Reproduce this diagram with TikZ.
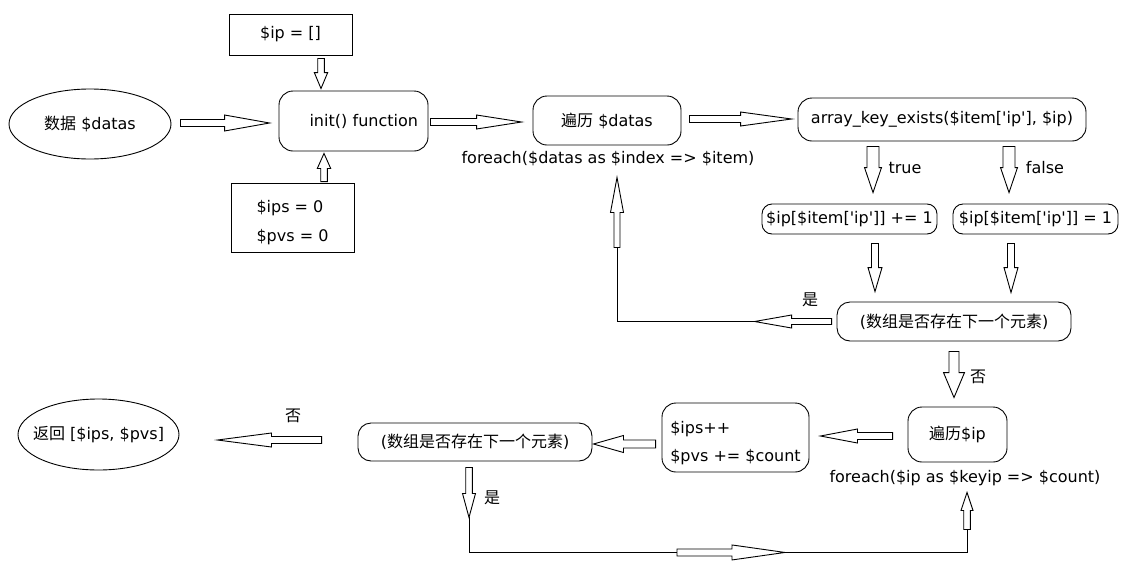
\documentclass[tikz,border=0pt]{standalone}
\usepackage{fontspec}
\setmainfont{DejaVu Sans}
\newfontfamily\cjkfont{Noto Sans CJK SC}
\usetikzlibrary{shapes.geometric,calc}

\tikzset{
  blockline/.style={draw, line width=0.9pt, fill=white},
  roundbox/.style={draw, line width=0.9pt, rounded corners=14pt, inner sep=0pt, align=center},
  plainbox/.style={draw, line width=0.9pt, inner sep=0pt, align=center},
  oval/.style={draw, ellipse, line width=0.9pt, inner sep=0pt},
  textlabel/.style={inner sep=0pt},
  loopline/.style={line width=0.9pt},
}

% arrow sizes
\def\shaftw{3.5pt}
\def\headw{7pt}
\newcommand{\q}{\textquotesingle}

% hollow block arrow: start, tip, head length
\newcommand{\blockarrow}[3]{%
  \coordinate (ba-s) at (#1);
  \coordinate (ba-t) at (#2);
  \coordinate (ba-h) at ($(ba-t)!#3pt!(ba-s)$);
  \draw[blockline] ($(ba-s)!\shaftw!90:(ba-t)$) -- ($(ba-h)!\shaftw!90:(ba-t)$)
    -- ($(ba-h)!\headw!90:(ba-t)$) -- (ba-t) -- ($(ba-h)!\headw!-90:(ba-t)$)
    -- ($(ba-h)!\shaftw!-90:(ba-t)$) -- ($(ba-s)!\shaftw!-90:(ba-t)$) -- cycle;}

\begin{document}
\begin{tikzpicture}[x=1pt, y=-1pt, font=\fontsize{16pt}{19pt}\selectfont]

    \useasboundingbox (0,0) rectangle (1140,584);

    % Upper row
    \node[oval, minimum width=162pt, minimum height=70pt] (data) at (90,124) {\makebox[0pt]{{\cjkfont 数据} \$datas}};
    \node[plainbox, minimum width=123pt, minimum height=41pt] (ipinit) at (290.5,34.5) {\$ip = []};
    \node[roundbox, text width=129pt, inner xsep=10pt, align=right, minimum height=60pt] (init) at (353.5,121) {init() function};
    \node[plainbox, align=left, minimum width=123pt, minimum height=69pt,
          font=\fontsize{16pt}{29pt}\selectfont] (counters) at (292.5,217.5) {\rule{0pt}{22pt}\$ips = 0\\\$pvs = 0};
    \node[roundbox, minimum width=148pt, minimum height=49pt] (loop1) at (607,120.5) {{\cjkfont 遍历} \$datas};
    \node[textlabel] (foreach1) at (608,159) {foreach(\$datas as \$index => \$item)};
    \node[roundbox, minimum width=288pt, minimum height=43pt] (check) at (942,119.5) {array\_key\_exists(\$item[\q ip\q], \$ip)};

    % Branches
    \node[roundbox, rounded corners=10pt, minimum width=175pt, minimum height=30pt] (inc) at (849.5,219) {\$ip[\$item[\q ip\q]] += 1};
    \node[roundbox, rounded corners=10pt, minimum width=165pt, minimum height=30pt] (set) at (1035.5,219) {\$ip[\$item[\q ip\q]] = 1};
    \node[roundbox, rounded corners=13pt, minimum width=234pt, minimum height=39pt] (next1) at (954,321.5) {({\cjkfont 数组是否存在下一个元素})};
    \node[textlabel] (ltrue) at (905,168) {true};
    \node[textlabel] (lfalse) at (1045,168) {false};
    \node[textlabel] (lyes1) at (810,300) {\cjkfont 是};
    \node[textlabel] (lno1) at (978,377) {\cjkfont 否};

    % Lower row
    \node[roundbox, minimum width=99pt, minimum height=55pt] (loop2) at (957.5,434.5) {{\cjkfont 遍历}\$ip};
    \node[textlabel] (foreach2) at (965,478) {foreach(\$ip as \$keyip => \$count)};
    \node[roundbox, align=left, minimum width=147pt, minimum height=69pt,
          font=\fontsize{16pt}{28pt}\selectfont] (acc) at (735.5,437.5) {\rule{0pt}{24pt}\$ips++\\\$pvs += \$count};
    \node[roundbox, rounded corners=13pt, minimum width=234pt, minimum height=38pt] (next2) at (475,442) {({\cjkfont 数组是否存在下一个元素})};
    \node[oval, minimum width=161pt, minimum height=71pt] (result) at (98.5,434.5) {\makebox[0pt]{{\cjkfont 返回} [\$ips, \$pvs]}};
    \node[textlabel] (lno2) at (293,416) {\cjkfont 否};
    \node[textlabel] (lyes2) at (492,498) {\cjkfont 是};

    % Arrows, upper row
    {\def\headw{8pt}
    \blockarrow{$(data.east)+(9,-1)$}{$(init.west)+(-9,2)$}{45}}
    {\def\shaftw{3.3pt}\def\headw{6.7pt}
    \blockarrow{$(ipinit.south)+(30.5,3)$}{$(init.north)+(-32.5,-2)$}{16}
    \blockarrow{$(counters.north)+(31.5,-1)$}{$(init.south)+(-29.5,2)$}{15}}
    \blockarrow{$(init.east)+(2,1)$}{$(loop1.west)+(-11,1.5)$}{45}
    \blockarrow{$(loop1.east)+(8,-1.5)$}{$(check.west)+(-6,-0.5)$}{51}
    {\def\shaftw{6pt}\def\headw{8.5pt}
    \blockarrow{$(check.south)+(-69,5)$}{$(inc.north)+(23.5,-11)$}{25}
    \blockarrow{$(check.south)+(67,5)$}{$(set.north)+(-26.5,-11)$}{25}}
    \blockarrow{$(inc.south)+(25.5,9)$}{$(next1.north)+(-79,-10)$}{24}
    \blockarrow{$(set.south)+(-24.5,9)$}{$(next1.north)+(57,-9)$}{25}

    % Back to loop1
    \coordinate (yes1) at ($(next1.west)+(-82,0)$);
    \coordinate (back1) at ($(loop1.south)+(10,102)$);
    \draw[loopline] (yes1) -| (back1);
    {\def\shaftw{3pt}\def\headw{6.5pt}
    \blockarrow{$(next1.west)+(-5,0)$}{yes1}{37}
    \blockarrow{back1}{$(loop1.south)+(10,32)$}{35}}

    {\def\shaftw{5pt}\def\headw{10.5pt}
    \blockarrow{$(next1.south)+(0,10)$}{$(loop2.north)+(-3.5,-9)$}{25}}

    % Arrows, lower row
    \blockarrow{$(loop2.west)+(-15,1.5)$}{$(acc.east)+(11,-1.5)$}{37}
    {\def\shaftw{4pt}\def\headw{8.5pt}
    \blockarrow{$(acc.west)+(-6,6.5)$}{$(next2.east)+(1,2)$}{30}}
    \blockarrow{$(next2.west)+(-36,-2)$}{$(result.east)+(38,5.5)$}{54}

    % Back to loop2
    \coordinate (yes2) at ($(next2.south)+(-6,56)$);
    \coordinate (low) at ($(next2.south)+(-6,91)$);
    \coordinate (up2) at ($(loop2.south)+(9.5,67)$);
    \draw[loopline] (yes2) -- (low) -| (up2);
    {\def\shaftw{3.3pt}\def\headw{6.5pt}
    \blockarrow{$(next2.south)+(-6,6)$}{yes2}{24}}
    {\def\headw{7.5pt}
    \blockarrow{$(low)+(208,0)$}{$(low)+(316,0)$}{53}}
    {\def\shaftw{3.3pt}\def\headw{6pt}
    \blockarrow{up2}{$(loop2.south)+(9.5,30)$}{18}}

\end{tikzpicture}
\end{document}
